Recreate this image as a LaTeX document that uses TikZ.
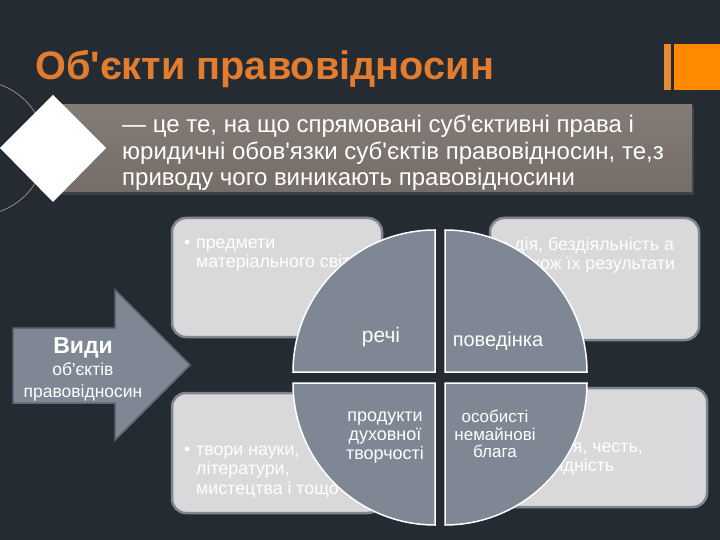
\documentclass[tikz,border=0pt]{standalone}
\usepackage{fontspec}
\setmainfont{Liberation Sans}[Ligatures=TeXOff]
\usepackage{xcolor}
\usepackage{tikz}
\definecolor{bgdark}{RGB}{37,43,51}
\definecolor{titleorange}{RGB}{226,124,46}
\definecolor{barorange}{RGB}{255,138,0}
\definecolor{thinorange}{RGB}{233,139,52}
\definecolor{bannertop}{RGB}{131,124,118}
\definecolor{bannerbot}{RGB}{117,110,104}
\definecolor{boxfill}{RGB}{217,217,219}
\definecolor{boxline}{RGB}{128,134,145}
\definecolor{slate}{RGB}{127,135,148}
\definecolor{arrowline}{RGB}{98,104,114}
\newcommand{\bulletline}[1]{\makebox[12pt][l]{•}#1}
\newcommand{\indentline}{\hspace*{12pt}}
\tikzset{
  kind/.style={rectangle, rounded corners=14pt, draw=boxline, line width=2.5pt, fill=boxfill},
  kindtext/.style={text=white, align=left, inner sep=0pt, anchor=base west, font=\fontsize{17.8}{19.5}\selectfont},
  quarter/.style={fill=slate, draw=white, line width=1.5pt},
  qtext/.style={text=white, align=center, inner sep=0pt, font=\fontsize{18}{19}\selectfont}
}

\begin{document}
\begin{tikzpicture}[x=1pt, y=-1pt]
        \fill[bgdark] (0,0) rectangle (720,540);
        \useasboundingbox (0,0) rectangle (720,540);
        \clip (0,0) rectangle (720,540);

        \draw[gray!70, line width=0.6pt] (-22,148) circle (67);

        \fill[black!75] (62,107) rectangle (694,195);
        \shade[top color=bannertop, bottom color=bannerbot] (60,105) rectangle (692,192);
        \node (defn) [anchor=base west, text=white, align=left, inner sep=0pt,
          font=\fontsize{24}{26.5}\selectfont] at (122,186)
          {— це те, на що спрямовані суб'єктивні права і\\
           юридичні обов'язки суб'єктів правовідносин, те,з\\
           приводу чого виникають правовідносини};
        \fill[white] (53,95) -- (106,148) -- (53,202) -- (0,148) -- cycle;

        \node (title) [anchor=base west, text=titleorange, inner sep=0pt,
          font=\bfseries\fontsize{39.7}{44}\selectfont] at (35,80) {Об'єкти правовідносин};
        \fill[thinorange] (664,44) rectangle (671,90);
        \fill[barorange] (674,44) rectangle (720,90);

        \foreach \name/\cx/\cy/\w/\h in {
          tl/277/277.5/210/119, tr/594.5/279/209/122,
          bl/277/453/210/120, br/602.5/447.5/209/119}
        \node[kind, minimum width=\w pt, minimum height=\h pt] (\name) at (\cx,\cy) {};

        \foreach \name/\x/\y/\txt in {
          tl/184/267.5/{\bulletline{предмети}\\\indentline матеріального світу},
          tr/502/269.5/{\bulletline{дія, бездіяльність а}\\\indentline також їх результати},
          bl/184/494/{\bulletline{твори науки,}\\\indentline літератури,\\\indentline мистецтва і тощо},
          br/541/471.5/{\bulletline{ім'я, честь,}\\\indentline гідність}}
        \node[kindtext] (\name txt) at (\x,\y) {\txt};

        \foreach \cx/\cy/\sa in {435/372/180, 445/372/270, 435/383/90, 445/383/0}
        \filldraw[quarter] (\cx,\cy) -- ++(\sa:142) arc[start angle=\sa, delta angle=90, radius=142] -- cycle;

        \node[qtext, font=\fontsize{21}{22}\selectfont] (things) at (381,337) {речі};
        \node[qtext, font=\fontsize{20}{22}\selectfont] (conduct) at (498,341) {поведінка};
        \node[qtext] (works) at (385,438) {продукти\\духовної\\творчості};
        \node[qtext, font=\fontsize{17}{17.5}\selectfont] (goods) at (495,434) {особисті\\немайнові\\блага};

        \filldraw[fill=slate, draw=arrowline, line width=1.5pt]
          (13,328) -- (115,328) -- (115,290) -- (190,365) -- (115,440) -- (115,403) -- (13,403) -- cycle;
        \node (kinds) [text=white, align=center, inner sep=0pt, font=\fontsize{17.5}{22}\selectfont] at (83,369)
          {{\bfseries\fontsize{23}{25}\selectfont Види}\\об'єктів\\правовідносин};
\end{tikzpicture}
\end{document}
